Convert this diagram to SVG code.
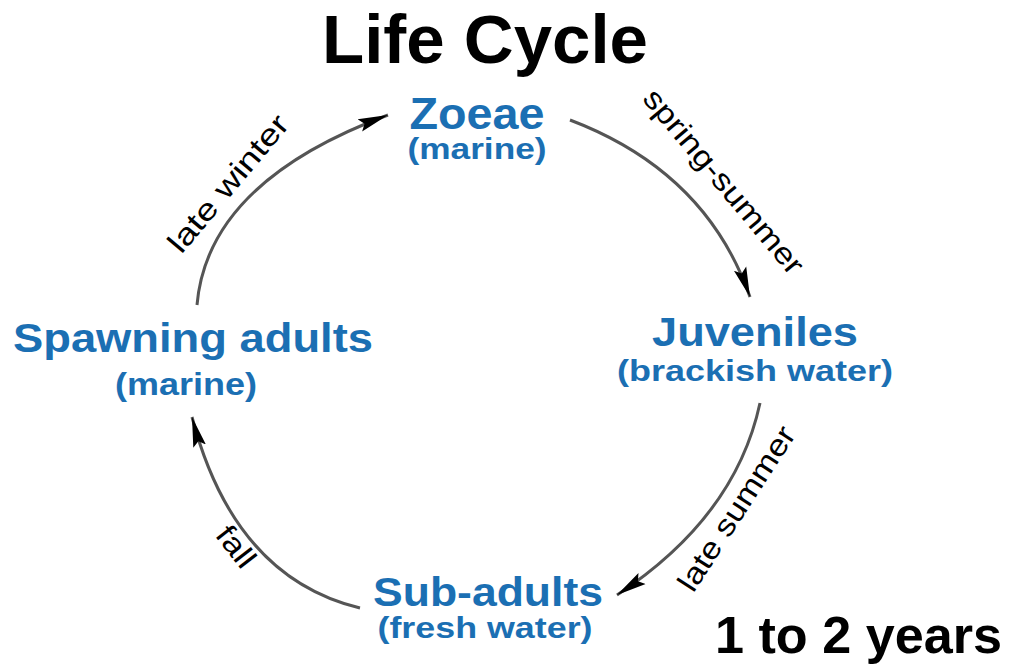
<svg xmlns="http://www.w3.org/2000/svg" width="1013" height="664" viewBox="0 0 1013 664">
<style>
.t{font-family:"Liberation Sans",Arial,sans-serif;}
.title{font-weight:bold;fill:#000;}
.node{font-weight:bold;fill:#1b6fb3;text-anchor:middle;}
.lab{fill:#000;text-anchor:middle;font-size:30px;}
.arc{fill:none;stroke:#555;stroke-width:3;}
</style>
<defs>
<marker id="ah" markerUnits="userSpaceOnUse" markerWidth="32" markerHeight="16" viewBox="0 0 32 16" refX="30" refY="8" orient="auto">
<path d="M0,1.5 L30,8 L0,14.5 L5,8 Z" fill="#000"/>
</marker>
</defs>
<rect width="1013" height="664" fill="#fff"/>
<text class="t title" x="485" y="63" font-size="69" text-anchor="middle" textLength="326" lengthAdjust="spacingAndGlyphs">Life Cycle</text>
<text class="t title" x="715" y="653" font-size="52" textLength="287" lengthAdjust="spacingAndGlyphs">1 to 2 years</text>
<g id="connectors">
<path class="arc" d="M570,120 Q706,171.5 750,297" marker-end="url(#ah)"/>
<path class="arc" d="M760,403 Q735.5,517 617,595" marker-end="url(#ah)"/>
<path class="arc" d="M360,608 Q234,577.5 192,417" marker-end="url(#ah)"/>
<path class="arc" d="M197,305 Q207.5,182 388,115" marker-end="url(#ah)"/>
<text class="t lab" transform="translate(716,188) rotate(50)" textLength="232" lengthAdjust="spacingAndGlyphs">spring-summer</text>
<text class="t lab" transform="translate(745,514) rotate(-57)" textLength="190" lengthAdjust="spacingAndGlyphs">late summer</text>
<text class="t lab" transform="translate(236,190) rotate(-50)" textLength="170" lengthAdjust="spacingAndGlyphs">late winter</text>
<text class="t lab" transform="translate(228,553) rotate(52)" textLength="45" lengthAdjust="spacingAndGlyphs">fall</text>
</g>
<g id="zoeae">
<text class="t node" x="477" y="129" font-size="44" textLength="135" lengthAdjust="spacingAndGlyphs">Zoeae</text>
<text class="t node" x="477" y="159" font-size="30" textLength="139" lengthAdjust="spacingAndGlyphs">(marine)</text>
</g>
<g id="juveniles">
<text class="t node" x="755" y="346" font-size="41" textLength="206" lengthAdjust="spacingAndGlyphs">Juveniles</text>
<text class="t node" x="755" y="381" font-size="30" textLength="276" lengthAdjust="spacingAndGlyphs">(brackish water)</text>
</g>
<g id="subadults">
<text class="t node" x="488" y="606" font-size="41" textLength="230" lengthAdjust="spacingAndGlyphs">Sub-adults</text>
<text class="t node" x="485" y="638" font-size="30" textLength="215" lengthAdjust="spacingAndGlyphs">(fresh water)</text>
</g>
<g id="spawning">
<text class="t node" x="193" y="352" font-size="41" textLength="360" lengthAdjust="spacingAndGlyphs">Spawning adults</text>
<text class="t node" x="186" y="395" font-size="31" textLength="142" lengthAdjust="spacingAndGlyphs">(marine)</text>
</g>
</svg>
